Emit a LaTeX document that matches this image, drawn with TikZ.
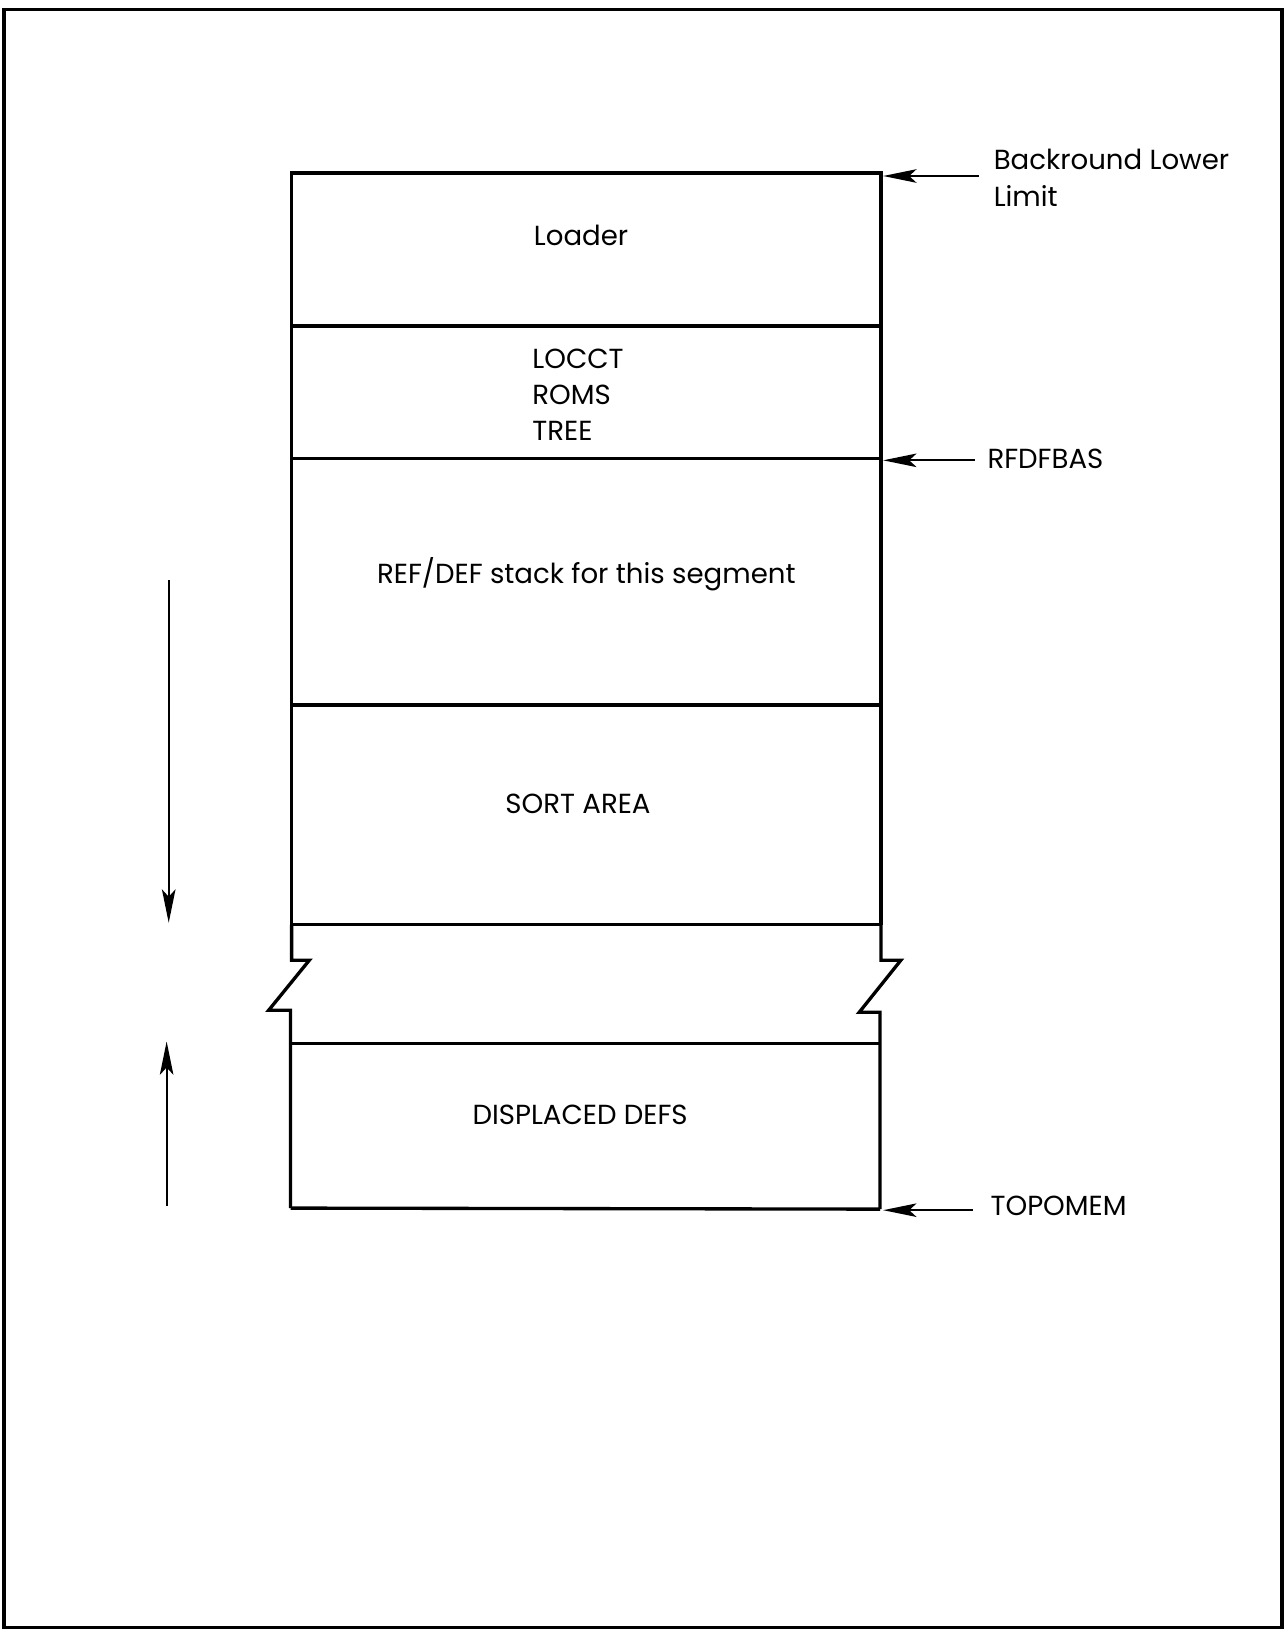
\documentclass[tikz,border=0pt]{standalone}
\usepackage{fontspec}
\setmainfont{Poppins}
\usetikzlibrary{arrows.meta}
\begin{document}
\begin{tikzpicture}[x=1pt,y=-1pt,
  heavy/.style={line width=3.2pt, line join=miter},
  ptr/.style={line width=2pt, -{Stealth[length=32pt,width=13pt,inset=7pt]}},
  lbl/.style={font=\fontsize{26.5}{35}\selectfont, inner sep=0pt},
  sidelbl/.style={lbl, anchor=west, align=left}]
\useasboundingbox (0,0) rectangle (1235,1568);
% outer frame
\draw[line width=3.2pt] (4,9) rectangle (1231,1563);
% memory column
\draw[heavy] (280,888) -- (280,166) -- (846,166) -- (846,888);
\draw[heavy] (280,313) -- (846,313);
\draw[heavy] (280,440) -- (846,440);
\draw[heavy] (280,677) -- (846,677);
\draw[heavy] (280,888) -- (846,888);
% break
\draw[heavy] (280,888) -- (280,922) -- (297,922) -- (258,970) -- (279,970) -- (279,1160);
\draw[heavy] (846,888) -- (846,922) -- (865,922) -- (825,972) -- (845,972) -- (845,1161);
\draw[heavy] (279,1002) -- (845,1002);
\draw[heavy] (279,1160) -- (845,1161);
% texts in column
\node[lbl] (loader) at (558,226) {Loader};
\node[lbl, anchor=west, align=left] (locct) at (511,379) {LOCCT\\ROMS\\TREE};
\node[lbl] (refdef) at (563,551) {REF/DEF stack for this segment};
\node[lbl] (sort) at (555,772) {SORT AREA};
\node[lbl] (disp) at (557,1070) {DISPLACED DEFS};
% right labels
\node[lbl, anchor=north west, align=left] (bll) at (954,143) {Backround Lower\\Limit};
\node[sidelbl] (rfd) at (948,441) {RFDFBAS};
\node[sidelbl] (top) at (951,1158) {TOPOMEM};
\coordinate (bllTail) at (940,169);
\coordinate (bllTip) at (848,169);
\coordinate (rfdTail) at (936,442);
\coordinate (rfdTip) at (848,442);
\coordinate (topTail) at (934,1162);
\coordinate (topTip) at (848,1162);
\draw[ptr] (bllTail) -- (bllTip);
\draw[ptr] (rfdTail) -- (rfdTip);
\draw[ptr] (topTail) -- (topTip);
% growth arrows
\coordinate (downTail) at (162,557);
\coordinate (downTip) at (162,886);
\coordinate (upTail) at (160,1158);
\coordinate (upTip) at (160,1000);
\draw[ptr] (downTail) -- (downTip);
\draw[ptr] (upTail) -- (upTip);
\end{tikzpicture}
\end{document}
